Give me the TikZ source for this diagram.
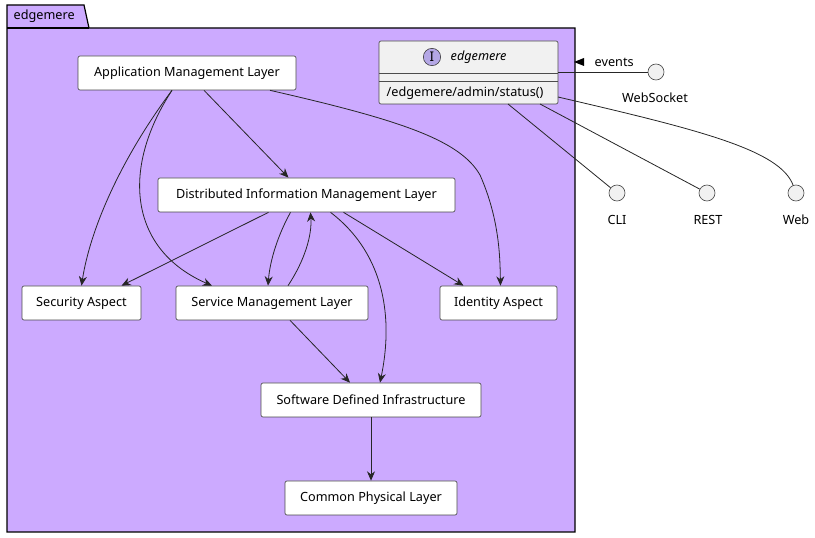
\documentclass[tikz,border=0pt]{standalone}
\usepackage{fontspec}
\setmainfont{Noto Sans}
\usetikzlibrary{arrows.meta,calc}
\definecolor{pkg}{HTML}{CCAAFF}
\definecolor{ifc}{HTML}{F1F1F1}
\definecolor{ibadge}{HTML}{B4A7E5}
\begin{document}
\begin{tikzpicture}[x=0.75pt,y=-0.75pt,
  box/.style={draw=black!70,fill=white,rounded corners=1.5pt,line width=0.5pt,minimum height=25.5pt,inner sep=0pt,font=\fontsize{9.5}{11}\selectfont},
  arr/.style={-{Stealth[length=7pt,width=6pt]},line width=0.6pt,black!85},
  ln/.style={line width=0.6pt,black!85},
  lbl/.style={font=\fontsize{9.5}{11}\selectfont},
  port/.style={circle,draw=black!70,fill=ifc,minimum size=12pt,inner sep=0pt,line width=0.5pt}]
\useasboundingbox (0,0) rectangle (815,538);
% package
\draw[fill=pkg,line width=0.9pt] (7,28) -- (7,5) -- (84,5) -- (89,28) -- (575,28) -- (575,532) -- (7,532) -- cycle;
\draw[line width=0.9pt] (7,28) -- (89,28);
\node[anchor=west,font=\bfseries\fontsize{9.5}{11}\selectfont] (pk) at (9,16) {edgemere};
% nodes
\node[box,minimum width=163.5pt] (aml) at (187,73) {Application Management Layer};
\node[box,minimum width=222.75pt] (diml) at (306.5,195) {Distributed Information Management Layer};
\node[box,minimum width=89.25pt] (sec) at (81.5,303) {Security Aspect};
\node[box,minimum width=144pt] (sml) at (272,303) {Service Management Layer};
\node[box,minimum width=87.75pt] (ida) at (498.5,303) {Identity Aspect};
\node[box,minimum width=165pt] (sdi) at (371,400) {Software Defined Infrastructure};
\node[box,minimum width=129pt] (cpl) at (371,498) {Common Physical Layer};
% interface
\draw[fill=ifc,draw=black!70,rounded corners=1.5pt,line width=0.5pt] (379,41) rectangle (558,104);
\draw[black!70,line width=0.5pt] (379,73) -- (558,73) (379,81) -- (558,81);
\node[circle,draw=black!80,fill=ibadge,minimum size=13pt,inner sep=0pt,font=\bfseries\fontsize{10}{11}\selectfont] (ib) at (432,57) {I};
\node[lbl,anchor=west,font=\itshape\fontsize{9.5}{11}\selectfont] (in) at (446,57) {edgemere};
\node[lbl,anchor=west] (im) at (382,93) {/edgemere/admin/status()};
\coordinate (ifr) at (558,72);
% ports
\node[port] (ws) at (656,72) {};
\node[lbl] at (655,98) {WebSocket};
\node[port] (cli) at (617,193) {};
\node[lbl] at (617,220) {CLI};
\node[port] (rest) at (707,193) {};
\node[lbl] at (708,220) {REST};
\node[port] (web) at (796,193) {};
\node[lbl] at (796,220) {Web};
\draw[ln] (ifr) -- (ws);
\node[lbl,anchor=west] (ev) at (590,62) {events};
\fill (574,62) -- (584,58) -- (584,66) -- cycle;
\draw[ln] (508,104) -- (cli);
\draw[ln] (540,104) -- (rest);
\draw[ln] (558,97) .. controls (700,130) and (780,150) .. (web);
% edges
\draw[arr] ($(aml.south)+(-15,0)$) .. controls (120,160) and (90,230) .. (sec.north);
\draw[arr] ($(aml.south)+(-15,0)$) .. controls (120,170) and (130,250) .. ($(sml.north)+(-60,0)$);
\draw[arr] ($(aml.south)+(17,0)$) -- ($(diml.north)+(-18,0)$);
\draw[arr] ($(aml.south)+(83,0)$) .. controls (400,120) and (460,140) .. (480,175) .. controls (500,220) and (500,260) .. ($(ida.north)+(2,0)$);
\draw[arr] ($(diml.south)+(-38,0)$) -- ($(sec.north)+(40,0)$);
\draw[arr] ($(diml.south)+(-16,0)$) .. controls (278,235) and (270,260) .. ($(sml.north)+(-4,0)$);
\draw[arr] ($(sml.north)+(16,0)$) .. controls (305,260) and (312,235) .. ($(diml.south)+(4,0)$);
\draw[arr] ($(diml.south)+(37,0)$) -- ($(ida.north)+(-35,0)$);
\draw[arr] ($(diml.south)+(24,0)$) .. controls (380,250) and (395,310) .. ($(sdi.north)+(9,0)$);
\draw[arr] ($(sml.south)+(18,0)$) -- ($(sdi.north)+(-21,0)$);
\draw[arr] (sdi) -- (cpl);
\end{tikzpicture}
\end{document}
